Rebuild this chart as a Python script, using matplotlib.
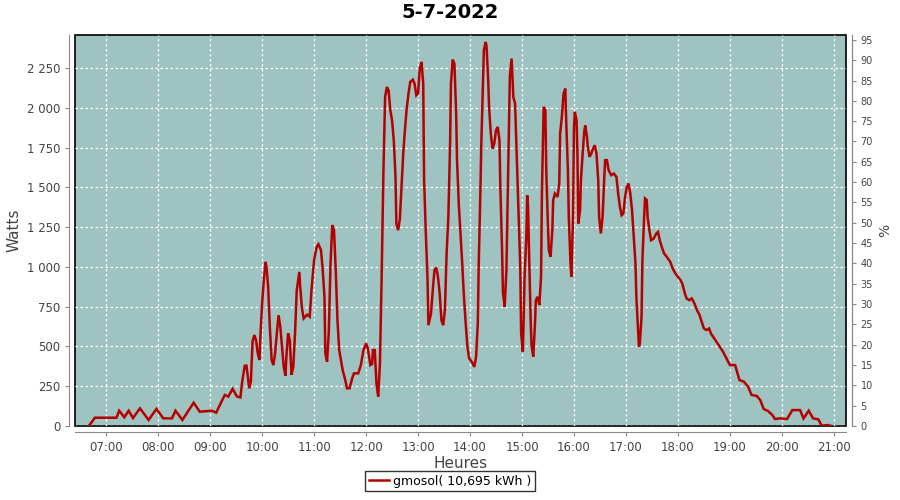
import matplotlib
matplotlib.use("Agg")
import matplotlib.pyplot as plt
from matplotlib.ticker import FuncFormatter, MultipleLocator

# minutes since midnight and power in W
minutes = [
    400, 407, 432, 435, 441, 446, 451, 459, 469, 478, 486, 496, 500, 508, 521, 528, 542,
    547, 554, 557, 561, 566, 571, 575, 577, 580, 582, 584, 585, 587, 589, 591, 593, 595,
    597, 598, 600, 602, 604, 605, 607, 609, 611, 613, 615, 617, 619, 621, 623, 625, 627,
    628, 630, 632, 634, 636, 638, 640, 643, 644, 646, 648, 652, 655, 657, 660, 663, 665,
    668, 670, 672, 673, 675, 677, 679, 681, 683, 685, 687, 689, 691, 693, 696, 698, 701,
    704, 706, 711, 714, 717, 720, 722, 725, 727, 728, 730, 732, 734, 736, 738, 740, 742,
    744, 746, 748, 750, 752, 754, 755, 757, 759, 761, 763, 765, 767, 769, 771, 774, 776,
    778, 780, 782, 784, 786, 787, 789, 791, 792, 795, 797, 799, 801, 803, 805, 807, 809,
    811, 813, 815, 817, 818, 820, 822, 824, 825, 827, 829, 831, 833, 835, 837, 839, 842,
    845, 847, 849, 850, 852, 853, 855, 856, 858, 859, 861, 862, 864, 866, 868, 870, 872,
    874, 875, 877, 878, 880, 882, 884, 886, 888, 890, 892, 894, 896, 898, 899, 901, 902,
    903, 905, 906, 907, 908, 910, 911, 913, 915, 916, 918, 920, 922, 923, 924, 925, 927,
    928, 930, 931, 933, 935, 936, 938, 941, 943, 944, 946, 948, 950, 951, 953, 954, 956,
    957, 959, 960, 961, 963, 964, 965, 967, 968, 970, 972, 973, 975, 976, 978, 980, 982,
    984, 986, 988, 989, 991, 993, 995, 996, 998, 1000, 1003, 1006, 1009, 1011, 1013, 1015,
    1017, 1019, 1021, 1023, 1025, 1027, 1029, 1031, 1032, 1034, 1035, 1036, 1038, 1039,
    1041, 1042, 1044, 1045, 1047, 1049, 1052, 1055, 1057, 1059, 1062, 1064, 1067, 1071,
    1074, 1077, 1080, 1083, 1085, 1088, 1090, 1093, 1096, 1099, 1102, 1105, 1108, 1110,
    1113, 1116, 1118, 1122, 1127, 1132, 1136, 1140, 1146, 1151, 1156, 1161, 1165, 1171,
    1175, 1179, 1184, 1189, 1192, 1198, 1206, 1212, 1221, 1225, 1231, 1236, 1242, 1246,
    1253, 1257,
]
watts = [
    0, 52, 52, 96, 55, 96, 50, 111, 38, 107, 48, 48, 96, 38, 146, 90, 96,
    84, 163, 195, 185, 234, 185, 180, 278, 379, 379, 289, 237, 278, 530, 572, 540, 456,
    415, 560, 770, 917, 1032, 1000, 875, 614, 415, 383, 456, 582, 697, 624, 498, 372, 316,
    435, 582, 540, 322, 372, 582, 854, 969, 875, 740, 676, 700, 687, 854, 1043, 1126, 1143,
    1105, 980, 812, 456, 404, 592, 1022, 1263, 1230, 980, 666, 477, 415, 352, 289, 237, 237,
    300, 331, 331, 383, 477, 519, 488, 383, 390, 477, 477, 268, 184, 390, 938, 1587, 2068,
    2131, 2110, 1985, 1922, 1796, 1566, 1273, 1231, 1300, 1510, 1720, 1870, 2000, 2090, 2163, 2177, 2152,
    2079, 2090, 2247, 2289, 2152, 1545, 1210, 917, 634, 708, 854, 980, 996, 938, 833, 666, 634,
    729, 1085, 1315, 1776, 2152, 2303, 2277, 1964, 1671, 1399, 1210, 1022, 812, 645, 498, 425, 404,
    372, 435, 645, 1001, 1482, 1765, 2152, 2362, 2414, 2393, 2173, 2006, 1838, 1744, 1776, 1859, 1880,
    1796, 1503, 1105, 840, 750, 980, 1608, 2200, 2310, 2068, 2027, 1692, 1336, 1001, 582, 467, 687,
    938, 1189, 1451, 1378, 1126, 666, 509, 435, 645, 791, 812, 760, 938, 1461, 1733, 2006, 1985,
    1608, 1252, 1105, 1064, 1231, 1420, 1461, 1440, 1524, 1838, 1943, 2090, 2121, 1922, 1608, 1315, 1022,
    938, 1336, 1880, 1975, 1922, 1713, 1273, 1357, 1545, 1713, 1859, 1890, 1817, 1754, 1692, 1713, 1744,
    1765, 1713, 1545, 1315, 1210, 1315, 1566, 1671, 1671, 1608, 1577, 1587, 1566, 1461, 1378, 1325,
    1336, 1440, 1503, 1524, 1461, 1357, 1189, 1022, 812, 603, 498, 519, 687, 1043,
    1315, 1430, 1420, 1315, 1231, 1168, 1178, 1210, 1220, 1168, 1115, 1085, 1064, 1033,
    990, 959, 938, 917, 896, 833, 802, 791, 802, 771, 729, 697, 645, 613,
    603, 613, 582, 550, 509, 467, 425, 383, 383, 289, 279, 247, 195, 189,
    163, 107, 94, 69, 44, 48, 44, 100, 100, 48, 96, 48, 42, 2,
    6, 0,
]

hour_ticks = list(range(7, 22))
title = "5-7-2022"
legend_label = "gmosol( 10,695 kWh )"

fig = plt.figure(figsize=(9, 5), dpi=100)
ax = fig.add_axes([0.0833, 0.148, 0.8567, 0.782])
ax.set_facecolor("#9ec3c1")
ax.patch.set_edgecolor("black")
ax.patch.set_linewidth(1.2)

line, = ax.plot(minutes, watts, color="#b50000", lw=1.8, solid_joinstyle="miter")

ax.set_xlim(384, 1274)
ax.set_ylim(0, 2458)
ax.set_xticks([h * 60 for h in hour_ticks])
ax.set_xticklabels([f"{h:02d}:00" for h in hour_ticks])
ax.yaxis.set_major_locator(MultipleLocator(250))
ax.yaxis.set_major_formatter(FuncFormatter(lambda v, p: f"{int(v):,}".replace(",", " ")))
ax.grid(True, color="white", ls=(0, (2, 2)), lw=0.9)
ax.set_axisbelow(True)

for side in ["left", "bottom", "right"]:
    ax.spines[side].set_position(("outward", 4))
    ax.spines[side].set_color("#888888")
ax.spines["top"].set_visible(False)
ax.tick_params(colors="#444444", labelsize=8.5, length=3, color="#888888")

ax2 = ax.twinx()
ax2.set_ylim(0, 96.2)
ax2.yaxis.set_major_locator(MultipleLocator(5))
ax2.tick_params(colors="#444444", labelsize=7, length=3, color="#888888")
for side in ["left", "bottom", "top"]:
    ax2.spines[side].set_visible(False)
ax2.spines["right"].set_position(("outward", 4))
ax2.spines["right"].set_color("#888888")

ax.set_ylabel("Watts", fontsize=11, color="#444444")
ax.set_xlabel("Heures", fontsize=11, color="#444444", labelpad=2)
ax2.set_ylabel("%", fontsize=10, color="#444444")
fig.suptitle(title, fontsize=14, fontweight="bold", y=0.995)

leg = fig.legend([line], [legend_label], loc="lower center", bbox_to_anchor=(0.5, 0.005),
                 fontsize=9, frameon=True, fancybox=False, handlelength=1.6,
                 borderpad=0.3, handletextpad=0.3)
leg.get_frame().set_edgecolor("black")
leg.get_frame().set_linewidth(1)

fig.savefig("out.png", dpi=100)
